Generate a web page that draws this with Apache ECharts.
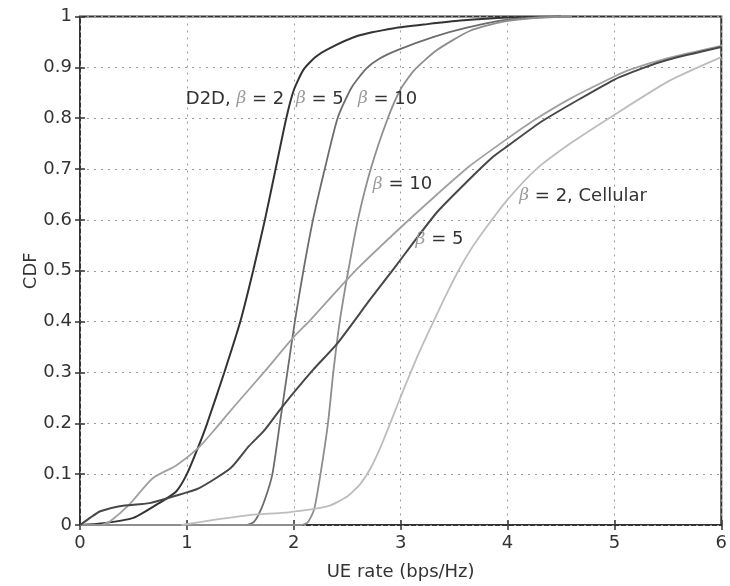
<!DOCTYPE html>
<html>
<head>
<meta charset="utf-8">
<script src="https://cdn.jsdelivr.net/npm/echarts@6/dist/echarts.min.js"></script>
<style>
  html, body { margin: 0; padding: 0; background: #fff; }
  #chart { width: 730px; height: 586px; }
</style>
</head>
<body>
<div id="chart"></div>
<script>
// CDF of UE rate (bps/Hz): D2D and cellular users for three beta values

const xTicks = [0, 1, 2, 3, 4, 5, 6];
const yTicks = [0, 0.1, 0.2, 0.3, 0.4, 0.5, 0.6, 0.7, 0.8, 0.9, 1];

// [rate, cdf] samples
const d2dBeta2 = [
  [0, 0], [0.2, 0.003], [0.5, 0.014], [0.74, 0.043], [0.9, 0.066], [1.0, 0.1],
  [1.1, 0.15], [1.19, 0.2], [1.35, 0.3], [1.5, 0.4], [1.62, 0.5], [1.73, 0.6],
  [1.83, 0.7], [1.93, 0.8], [2.0, 0.855], [2.09, 0.895], [2.2, 0.92], [2.32, 0.936],
  [2.6, 0.962], [2.94, 0.977], [3.25, 0.985], [3.56, 0.992], [4.0, 0.998], [4.5, 1]
];
const d2dBeta5 = [
  [0, 0], [1.55, 0], [1.62, 0.005], [1.67, 0.02], [1.73, 0.05], [1.8, 0.1],
  [1.87, 0.2], [1.94, 0.3], [2.01, 0.4], [2.09, 0.5], [2.18, 0.6], [2.29, 0.7],
  [2.41, 0.8], [2.54, 0.86], [2.68, 0.898], [2.8, 0.917], [2.97, 0.934], [3.31, 0.96],
  [3.62, 0.978], [4.0, 0.994], [4.5, 1]
];
const d2dBeta10 = [
  [0, 0], [2.07, 0], [2.13, 0.005], [2.19, 0.03], [2.25, 0.1], [2.32, 0.2],
  [2.37, 0.3], [2.43, 0.4], [2.51, 0.5], [2.6, 0.6], [2.72, 0.7], [2.88, 0.8],
  [3.0, 0.857], [3.13, 0.895], [3.34, 0.934], [3.65, 0.972], [3.96, 0.99],
  [4.3, 0.998], [4.6, 1]
];
const cellBeta10 = [
  [0.2, 0], [0.28, 0.007], [0.46, 0.04], [0.68, 0.092], [0.9, 0.117], [1.11, 0.152],
  [1.27, 0.19], [1.45, 0.235], [1.72, 0.3], [2.0, 0.37], [2.15, 0.402], [2.4, 0.46],
  [2.6, 0.505], [3.0, 0.585], [3.34, 0.65], [3.64, 0.705], [4.0, 0.76], [4.24, 0.795],
  [4.6, 0.84], [5.0, 0.882], [5.14, 0.895], [5.5, 0.918], [6.0, 0.942]
];
const cellBeta5 = [
  [0, 0], [0.1, 0.015], [0.19, 0.027], [0.37, 0.037], [0.65, 0.043], [0.87, 0.056],
  [1.11, 0.072], [1.41, 0.112], [1.58, 0.155], [1.72, 0.185], [1.89, 0.232],
  [2.18, 0.305], [2.4, 0.355], [2.72, 0.445], [2.94, 0.505], [3.1, 0.55],
  [3.34, 0.615], [3.62, 0.675], [3.87, 0.725], [4.0, 0.745], [4.33, 0.795],
  [5.0, 0.876], [5.26, 0.898], [5.5, 0.915], [6.0, 0.94]
];
const cellBeta2 = [
  [0.95, 0], [1.25, 0.01], [1.6, 0.02], [1.95, 0.025], [2.32, 0.037], [2.5, 0.056],
  [2.62, 0.08], [2.72, 0.112], [2.82, 0.157], [2.94, 0.22], [3.0, 0.252],
  [3.08, 0.293], [3.17, 0.338], [3.3, 0.397], [3.42, 0.45], [3.54, 0.5], [3.66, 0.543],
  [3.8, 0.585], [4.0, 0.64], [4.27, 0.7], [4.6, 0.752], [4.95, 0.8], [5.5, 0.872],
  [6.0, 0.92]
];

// curve annotations: [text, rate, cdf] at the text's left edge
const annotations = [
  ['D2D, {b|β} = 2', 0.99, 0.838],
  ['{b|β} = 5', 2.02, 0.838],
  ['{b|β} = 10', 2.6, 0.838],
  ['{b|β} = 10', 2.74, 0.67],
  ['{b|β} = 5', 3.14, 0.561],
  ['{b|β} = 2, Cellular', 4.11, 0.647]
];

const textColor = '#333';
const font = 'DejaVu Sans';

function curve(name, data, color, width) {
  return {
    name, type: 'line', data, symbol: 'none', smooth: 0.2,
    lineStyle: { color, width }, silent: true, z: 3
  };
}

const tickStyle = { show: true, inside: true, length: 5, lineStyle: { color: '#333', width: 1.5 } };
const gridLineStyle = { show: true, lineStyle: { color: '#9a9a9a', width: 1, type: [2, 5] } };

const chart = echarts.init(document.getElementById('chart'), null, { renderer: 'canvas' });

chart.setOption({
  animation: false,
  backgroundColor: '#fff',
  grid: {
    left: 80, right: 4, top: 16.5, bottom: 59,
    show: true, borderColor: '#333', borderWidth: 2, backgroundColor: 'transparent'
  },
  xAxis: [{
    type: 'value', min: xTicks[0], max: xTicks[xTicks.length - 1], interval: 1,
    name: 'UE rate (bps/Hz)', nameLocation: 'middle', nameGap: 38, nameMoveOverlap: false,
    nameTextStyle: { color: textColor, fontSize: 18, fontFamily: font },
    axisLine: { show: false },
    axisTick: tickStyle,
    axisLabel: { color: textColor, fontSize: 18, fontFamily: font, margin: 9 },
    splitLine: gridLineStyle
  }, {
    type: 'value', position: 'top', min: xTicks[0], max: xTicks[xTicks.length - 1], interval: 1,
    axisLine: { show: false }, axisLabel: { show: false }, splitLine: { show: false },
    axisTick: tickStyle
  }],
  yAxis: [{
    type: 'value', min: yTicks[0], max: yTicks[yTicks.length - 1], interval: 0.1,
    name: 'CDF', nameLocation: 'middle', nameGap: 40, nameRotate: 90, nameMoveOverlap: false,
    nameTextStyle: { color: textColor, fontSize: 18, fontFamily: font },
    axisLine: { show: false },
    axisTick: tickStyle,
    axisLabel: { color: textColor, fontSize: 18, fontFamily: font, margin: 8 },
    splitLine: gridLineStyle
  }, {
    type: 'value', position: 'right', min: yTicks[0], max: yTicks[yTicks.length - 1], interval: 0.1,
    axisLine: { show: false }, axisLabel: { show: false }, splitLine: { show: false },
    axisTick: tickStyle
  }],
  series: [
    curve('D2D β=2', d2dBeta2, '#333333', 2),
    curve('D2D β=5', d2dBeta5, '#6c6c6c', 1.8),
    curve('D2D β=10', d2dBeta10, '#8e8e8e', 1.8),
    curve('Cellular β=10', cellBeta10, '#a0a0a0', 1.8),
    curve('Cellular β=5', cellBeta5, '#474747', 2),
    curve('Cellular β=2', cellBeta2, '#bdbdbd', 1.8)
  ]
});

// place the curve annotations through the grid's own coordinate conversion
chart.setOption({
  graphic: annotations.map(([text, x, y]) => {
    const [px, py] = chart.convertToPixel({ gridIndex: 0 }, [x, y]);
    return {
      type: 'text', x: px, y: py, z: 10, silent: true,
      style: {
        text, fill: textColor, fontSize: 18, fontFamily: font,
        align: 'left', verticalAlign: 'middle',
        rich: {
          b: { fontFamily: 'DejaVu Serif', fontStyle: 'italic', fontSize: 17, fill: '#9a9a9a' }
        }
      }
    };
  })
});
</script>
</body>
</html>
